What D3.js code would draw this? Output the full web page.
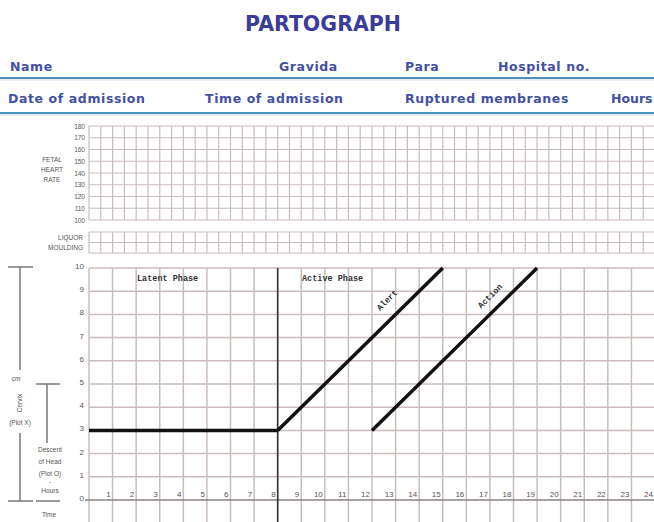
<!DOCTYPE html>
<html><head><meta charset="utf-8">
<script src="https://cdn.jsdelivr.net/npm/d3@7"></script>
<style>body{margin:0;background:#fff}svg{display:block}</style>
</head><body><svg id="c" width="654" height="522"></svg>
<script>
// ---- data ----
const hourLabels = [1,2,3,4,5,6,7,8,9,10,11,12,13,14,15,16,17,18,19,20,21,22,23,24];
const dilationTicks = [0,1,2,3,4,5,6,7,8,9,10];
const fhrTicks = [180,170,160,150,140,130,120,110,100];
const latentHours = [0, 8];
const latentCm = [3, 3];
const alertHours = [8, 15];
const alertCm = [3, 10];
const actionHours = [12, 19];
const actionCm = [3, 10];
const liquorRows = ["LIQUOR", "MOULDING"];
const headerRow1 = [["Name",10],["Gravida",279],["Para",405],["Hospital no.",498]];
const headerRow2 = [["Date of admission",8],["Time of admission",205],["Ruptured membranes",405],["Hours",611]];

const svg = d3.select("#c");
const gridCol = "#cbbcbc";
const blue = "#4350a4";

// header
svg.append("text").attr("x",323).attr("y",31).attr("text-anchor","middle")
  .attr("font-family","DejaVu Sans").attr("font-weight","bold").attr("font-size",20.5)
  .attr("fill","#3a3c9c").text("PARTOGRAPH");
const hdr = (rows, yy) => svg.append("g").selectAll("text").data(rows).join("text")
  .attr("x",d=>d[1]).attr("y",yy)
  .attr("font-family","DejaVu Sans").attr("font-weight","bold").attr("font-size",12.5)
  .attr("letter-spacing",d=>d[0]==="Hours"?0:0.6).attr("fill",blue).text(d=>d[0]);
hdr(headerRow1, 71);
hdr(headerRow2, 103);
[78,113].forEach(y=>{
  svg.append("line").attr("x1",0).attr("x2",654).attr("y1",y).attr("y2",y).attr("stroke","#4f8fc0").attr("stroke-width",2);
  svg.append("line").attr("x1",0).attr("x2",654).attr("y1",y+2).attr("y2",y+2).attr("stroke","#c9dcec").attr("stroke-width",1);
});

// scales
const x = d3.scaleLinear().domain([0,24]).range([89,655]);
const y = d3.scaleLinear().domain([0,10]).range([500,268]);
const yF = d3.scaleLinear().domain([100,180]).range([220,126]);
const halfHours = d3.range(0,24.01,0.5);

// FHR grid
const gF = svg.append("g");
gF.selectAll("line.v").data(halfHours).join("line").attr("x1",d=>x(d)).attr("x2",d=>x(d))
  .attr("y1",yF(180)).attr("y2",yF(100)).attr("stroke",gridCol).attr("stroke-width",1.2);
gF.selectAll("line.h").data(fhrTicks).join("line").attr("x1",x(0)).attr("x2",654)
  .attr("y1",d=>yF(d)).attr("y2",d=>yF(d)).attr("stroke",gridCol).attr("stroke-width",1.2);
gF.selectAll("text").data(fhrTicks).join("text").attr("x",85).attr("y",d=>yF(d)+2.5)
  .attr("text-anchor","end").attr("font-family","Liberation Sans").attr("font-size",6.5)
  .attr("fill","#555").text(d=>d);
["FETAL","HEART","RATE"].forEach((t,i)=>svg.append("text").attr("x",52).attr("y",162+i*10)
  .attr("text-anchor","middle").attr("font-family","Liberation Sans").attr("font-size",6.5).attr("fill","#555").text(t));

// Liquor grid
const lTop = 232, lRow = 10.5;
const gL = svg.append("g");
gL.selectAll("line.v").data(halfHours).join("line").attr("x1",d=>x(d)).attr("x2",d=>x(d))
  .attr("y1",lTop).attr("y2",lTop+2*lRow).attr("stroke",gridCol).attr("stroke-width",1.2);
gL.selectAll("line.h").data([0,1,2]).join("line").attr("x1",x(0)).attr("x2",654)
  .attr("y1",d=>lTop+d*lRow).attr("y2",d=>lTop+d*lRow).attr("stroke",gridCol).attr("stroke-width",1.2);
gL.selectAll("text").data(liquorRows).join("text").attr("x",83).attr("y",(d,i)=>lTop+i*lRow+7.5)
  .attr("text-anchor","end").attr("font-family","Liberation Sans").attr("font-size",6.5)
  .attr("fill","#555").text(d=>d);

// Main grid
const gM = svg.append("g");
gM.selectAll("line.v").data(d3.range(0,25)).join("line").attr("x1",d=>x(d)).attr("x2",d=>x(d))
  .attr("y1",y(10)).attr("y2",522).attr("stroke",gridCol).attr("stroke-width",1.5);
gM.selectAll("line.h").data(dilationTicks.filter(d=>d>0)).join("line").attr("x1",x(0)).attr("x2",654)
  .attr("y1",d=>y(d)).attr("y2",d=>y(d)).attr("stroke",gridCol).attr("stroke-width",1.5);
gM.append("line").attr("x1",x(0)-4).attr("x2",654).attr("y1",y(0)).attr("y2",y(0)).attr("stroke","#8a8080").attr("stroke-width",1.5);
gM.selectAll("text.yl").data(dilationTicks).join("text").attr("x",84).attr("y",d=>y(d)+1)
  .attr("text-anchor","end").attr("font-family","Liberation Sans").attr("font-size",8)
  .attr("fill","#555").text(d=>d);
gM.selectAll("text.xl").data(hourLabels).join("text").attr("x",d=>x(d)-2).attr("y",y(0)-3)
  .attr("text-anchor","end").attr("font-family","Liberation Sans").attr("font-size",8)
  .attr("fill","#555").text(d=>d);

// Vertical line at 8 hours
svg.append("line").attr("x1",x(8)).attr("x2",x(8)).attr("y1",y(10)).attr("y2",522).attr("stroke","#333").attr("stroke-width",1.6);

// phase labels
svg.append("text").attr("x",137).attr("y",281).attr("font-family","Liberation Mono").attr("font-weight","bold")
  .attr("font-size",8.5).attr("fill","#333").text("Latent Phase");
svg.append("text").attr("x",302).attr("y",281).attr("font-family","Liberation Mono").attr("font-weight","bold")
  .attr("font-size",8.5).attr("fill","#333").text("Active Phase");

// lines
const line = d3.line().x(d=>x(d[0])).y(d=>y(d[1]));
[[latentHours,latentCm],[alertHours,alertCm],[actionHours,actionCm]].forEach(([hs,cs])=>{
  svg.append("path").attr("d",line(hs.map((h,i)=>[h,cs[i]]))).attr("fill","none")
    .attr("stroke","#111").attr("stroke-width",3.5).attr("stroke-linecap","butt");
});
const ang = Math.atan2(y(10)-y(3), x(15)-x(8))*180/Math.PI;
svg.append("text").attr("transform",`translate(389,302) rotate(${ang})`).attr("text-anchor","middle")
  .attr("font-family","Liberation Mono").attr("font-weight","bold").attr("font-size",8.5).attr("fill","#333").text("Alert");
svg.append("text").attr("transform",`translate(492,298) rotate(${ang})`).attr("text-anchor","middle")
  .attr("font-family","Liberation Mono").attr("font-weight","bold").attr("font-size",8.5).attr("fill","#333").text("Action");

// left annotations
const ann = svg.append("g").attr("stroke","#777").attr("stroke-width",1.5);
ann.append("line").attr("x1",20).attr("x2",20).attr("y1",267).attr("y2",370);
ann.append("line").attr("x1",8).attr("x2",33).attr("y1",267).attr("y2",267);
ann.append("line").attr("x1",20).attr("x2",20).attr("y1",433).attr("y2",501);
ann.append("line").attr("x1",8).attr("x2",33).attr("y1",501).attr("y2",501);
ann.append("line").attr("x1",47).attr("x2",47).attr("y1",384).attr("y2",443);
ann.append("line").attr("x1",36).attr("x2",60).attr("y1",384).attr("y2",384);
ann.append("line").attr("x1",36).attr("x2",60).attr("y1",501).attr("y2",501);
const small = (t,xx,yy)=>svg.append("text").attr("x",xx).attr("y",yy).attr("text-anchor","middle")
  .attr("font-family","Liberation Sans").attr("font-size",6.5).attr("fill","#555").text(t);
small("cm",16,381);
svg.append("text").attr("transform","translate(22,403) rotate(-90)").attr("text-anchor","middle")
  .attr("font-family","Liberation Sans").attr("font-size",6.5).attr("fill","#555").text("Cervix");
small("(Plot X)",20,425);
small("Descent",50,452); small("of Head",50,464); small("(Plot O)",50,476);
small("-",50,484); small("Hours",50,493); small("Time",49,517);
</script></body></html>
